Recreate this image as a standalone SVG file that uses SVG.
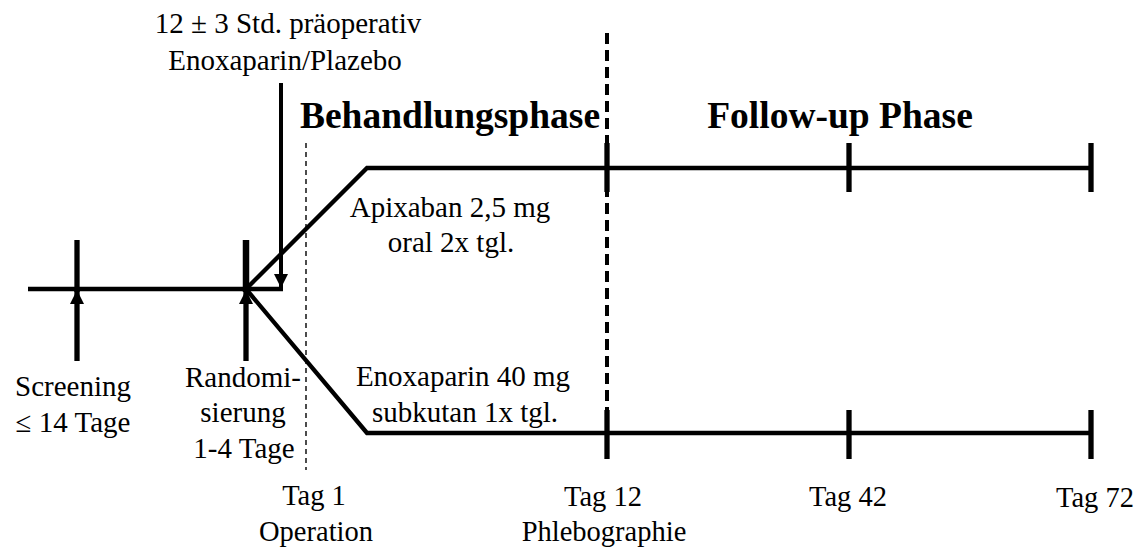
<svg xmlns="http://www.w3.org/2000/svg" width="1142" height="549" viewBox="0 0 1142 549" font-family="Liberation Serif, Times New Roman, Tinos, serif">
<style>
  text { fill: #000; text-anchor: middle; }
  .t { font-size: 29px; }
  .b { font-size: 28.5px; }
  .h { font-size: 37.5px; font-weight: bold; }
  .ln { stroke: #000; stroke-width: 4.3; fill: none; stroke-linejoin: miter; }
  .tick { stroke: #000; stroke-width: 5.3; fill: none; }
  .arr { stroke: #000; stroke-width: 4; fill: none; }
</style>
<defs>
  <marker id="ah" markerWidth="14" markerHeight="14" viewBox="0 0 14 14" refX="14" refY="7" orient="auto" markerUnits="userSpaceOnUse">
    <path d="M0,0 L14,7 L0,14 Z" fill="#000"/>
  </marker>
</defs>
<rect width="1142" height="549" fill="#fff"/>

<g id="connectors">
  <line x1="306" y1="143" x2="306" y2="470" stroke="#000" stroke-width="1.4" stroke-dasharray="5,4"/>
  <line x1="607" y1="33" x2="607" y2="410" stroke="#000" stroke-width="4" stroke-dasharray="11,6"/>
  <line class="ln" x1="28" y1="289" x2="283" y2="289"/>
  <polyline class="ln" points="246,289 367,168 1090,168"/>
  <polyline class="ln" points="246,289 367,433 1090,433"/>
  <line class="arr" x1="281" y1="83" x2="281" y2="288" marker-end="url(#ah)"/>
</g>

<g id="screening">
  <line class="tick" x1="77" y1="240" x2="77" y2="292"/>
  <line class="tick" x1="77" y1="361" x2="77" y2="290" marker-end="url(#ah)"/>
  <text class="t" x="73" y="396">Screening</text>
  <text class="t" x="73" y="432">≤ 14 Tage</text>
</g>

<g id="randomisierung">
  <line x1="246" y1="240" x2="246" y2="292" stroke="#000" stroke-width="6.5"/>
  <line class="tick" x1="246" y1="361" x2="246" y2="290" marker-end="url(#ah)"/>
  <text class="t" x="243" y="387">Randomi-</text>
  <text class="t" x="243" y="422">sierung</text>
  <text class="t" x="244" y="458">1-4 Tage</text>
</g>

<g id="praeoperativ">
  <text class="t" x="288" y="33">12 ± 3 Std. präoperativ</text>
  <text class="t" x="285" y="70">Enoxaparin/Plazebo</text>
</g>

<g id="behandlungsphase">
  <text class="h" x="450" y="128">Behandlungsphase</text>
</g>
<g id="followup">
  <text class="h" x="840" y="128">Follow-up Phase</text>
</g>

<g id="apixaban">
  <text class="t" x="450" y="217">Apixaban 2,5 mg</text>
  <text class="t" x="451" y="252">oral 2x tgl.</text>
</g>
<g id="enoxaparin">
  <text class="t" x="463" y="386">Enoxaparin 40 mg</text>
  <text class="t" x="465" y="422">subkutan 1x tgl.</text>
</g>

<g id="tag1">
  <text class="b" x="314" y="505">Tag 1</text>
  <text class="b" x="316" y="541">Operation</text>
</g>
<g id="tag12">
  <line class="tick" x1="607" y1="143" x2="607" y2="192"/>
  <line class="tick" x1="607" y1="410" x2="607" y2="459"/>
  <text class="b" x="603" y="506">Tag 12</text>
  <text class="b" x="604" y="541">Phlebographie</text>
</g>
<g id="tag42">
  <line class="tick" x1="849" y1="143" x2="849" y2="192"/>
  <line class="tick" x1="849" y1="410" x2="849" y2="459"/>
  <text class="b" x="848" y="506">Tag 42</text>
</g>
<g id="tag72">
  <line class="tick" x1="1091" y1="143" x2="1091" y2="192"/>
  <line class="tick" x1="1091" y1="410" x2="1091" y2="459"/>
  <text class="b" x="1095" y="507">Tag 72</text>
</g>
</svg>
